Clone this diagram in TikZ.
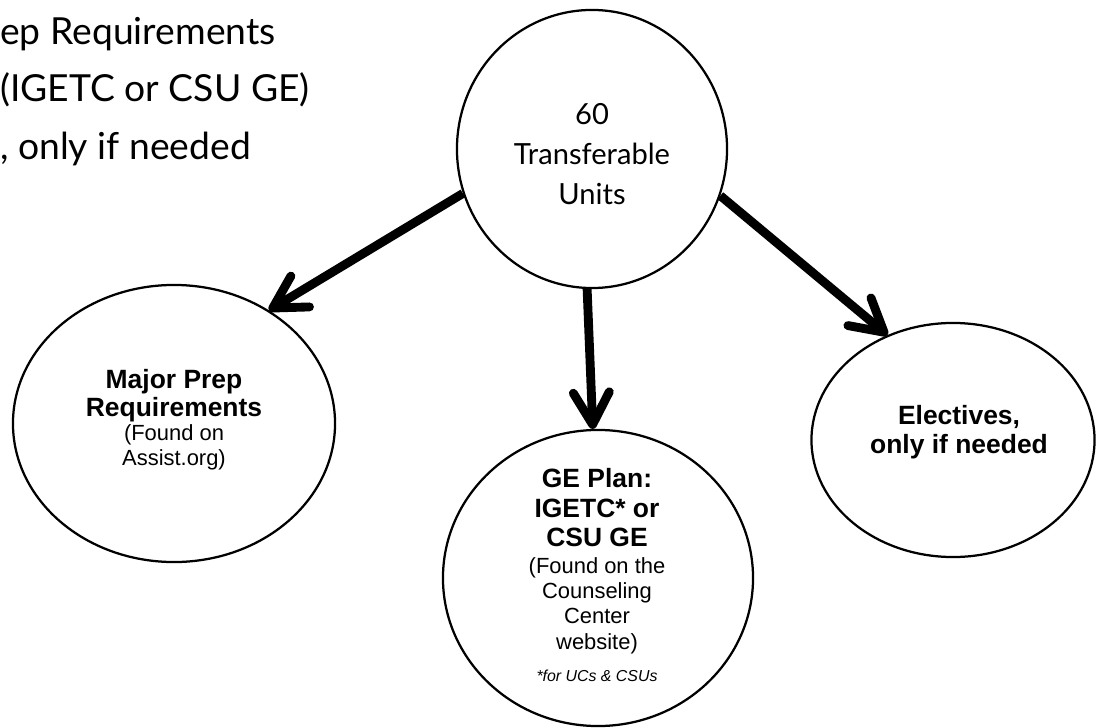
\documentclass[tikz,border=0pt]{standalone}
\usepackage{fontspec}
\setmainfont{Liberation Sans}
\newfontfamily\gill{Lato}
\usetikzlibrary{arrows.meta,shapes.geometric}

\newcommand{\headfont}{\bfseries\fontsize{18.8}{21.3}\selectfont}
\newcommand{\bodyfont}{\fontsize{15.6}{18}\selectfont}
\newcommand{\footfont}{\itshape\fontsize{11.3}{13}\selectfont}

\begin{document}
\begin{tikzpicture}[x=0.025cm,y=-0.025cm,
    bubble/.style={draw,ellipse,line width=1.6pt,inner sep=0pt},
    link/.style={line width=6.3pt,-{Straight Barb[length=0.8cm,width=0.9cm,round]}},
    note/.style={anchor=base west,inner sep=0pt,font=\gill\fontsize{26.5}{30}\selectfont},
    words/.style={align=center,inner sep=0pt,font=\bodyfont}]
    \fill[white] (0,0) rectangle (1104,728);
    \useasboundingbox (0,0) rectangle (1104,728);

    \node[note] (note1) at (0,45) {ep Requirements};
    \node[note] (note2) at (0,102) {(IGETC or CSU GE)};
    \node[note] (note3) at (0,160) {, only if needed};

    \node[bubble,minimum width=6.75cm,minimum height=6.95cm] (top) at (592,149) {};
    \node[align=center,inner sep=0pt,font=\gill\fontsize{20.7}{28.5}\selectfont] (toptext) at (592,154) {60\\Transferable\\Units};

    \node[bubble,minimum width=8.05cm,minimum height=6.925cm] (maj) at (174,423.5) {};
    \node[words] (majtext) at (174,420) {{\headfont Major Prep}\\[2pt]{\headfont Requirements}\\[-1pt](Found on\\Assist.org)};

    \node[bubble,minimum width=7.75cm,minimum height=7.4cm] (ge) at (598,578) {};
    \node[words] (getext) at (597,575) {{\headfont GE Plan:}\\[3.5pt]{\headfont IGETC* or}\\[2.8pt]{\headfont CSU GE}\\[0.7pt](Found on the\\Counseling\\Center\\website)\\[5pt]{\footfont *for UCs \& CSUs}};

    \node[bubble,minimum width=7.075cm,minimum height=5.85cm] (elec) at (953,440) {};
    \node[words] (electext) at (959,432) {{\headfont Electives,}\\[3pt]{\headfont only if needed}};

    \draw[link] (top.199) -- (maj.50);
    \draw[link] (top.268) -- (ge.92);
    \draw[link] (top.340) -- (elec.122);
\end{tikzpicture}
\end{document}
